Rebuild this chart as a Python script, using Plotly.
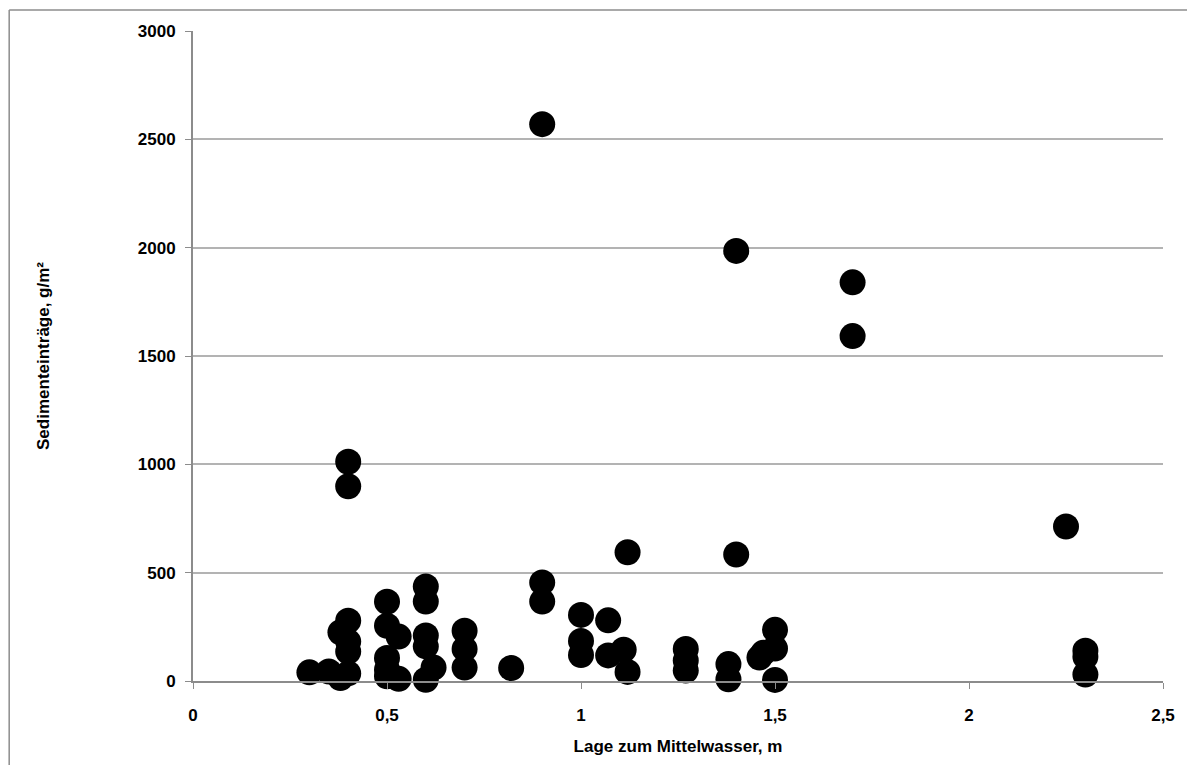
import plotly.graph_objects as go

# Lage zum Mittelwasser (m)
lage = [0.3, 0.35, 0.38, 0.38,
        0.4, 0.4, 0.4, 0.4, 0.4, 0.4,
        0.5, 0.5, 0.5, 0.5, 0.5,
        0.53, 0.53,
        0.6, 0.6, 0.6, 0.6, 0.6,
        0.62,
        0.7, 0.7, 0.7,
        0.82,
        0.9, 0.9, 0.9,
        1.0, 1.0, 1.0,
        1.07, 1.07,
        1.11,
        1.12, 1.12,
        1.27, 1.27, 1.27,
        1.38, 1.38,
        1.4, 1.4,
        1.46, 1.47,
        1.5, 1.5, 1.5,
        1.7, 1.7,
        2.25,
        2.3, 2.3, 2.3]

# Sedimenteinträge (g/m²)
sediment = [40, 44, 14, 225,
            1012, 899, 278, 182, 136, 35,
            366, 255, 106, 52, 22,
            205, 10,
            436, 367, 210, 160, 6,
            62,
            232, 148, 62,
            60,
            2570, 455, 367,
            305, 185, 120,
            280, 118,
            144,
            594, 42,
            148, 95, 48,
            78, 8,
            1985, 584,
            108, 130,
            236, 150, 5,
            1840, 1592,
            713,
            140, 112, 30]

x_ticks = [0, 0.5, 1, 1.5, 2, 2.5]
x_tick_labels = ["0", "0,5", "1", "1,5", "2", "2,5"]
y_ticks = [0, 500, 1000, 1500, 2000, 2500, 3000]

fig = go.Figure()
fig.add_trace(go.Scatter(
    x=lage, y=sediment, mode="markers",
    marker=dict(color="black", size=26, line=dict(width=0)),
    showlegend=False, cliponaxis=False,
))

font_family = "Liberation Sans, Arial, sans-serif"
W, H = 1179, 757
L, R, T, B = 185, 23, 23, 82
pw, ph = W - L - R, H - T - B  # plot area size

fig.update_layout(
    width=W, height=H,
    margin=dict(l=L, r=R, t=T, b=B),
    paper_bgcolor="white", plot_bgcolor="white",
    font=dict(family=font_family, size=17, color="black"),
    xaxis=dict(
        range=[0, 2.5], tickvals=x_ticks, ticktext=x_tick_labels,
        showgrid=False, zeroline=False,
        showline=True, linecolor="#8c8c8c", linewidth=2,
        ticks="outside", ticklen=6, tickcolor="#8c8c8c", tickwidth=1,
        ticklabelstandoff=12,
        tickfont=dict(family=font_family, size=17, color="black", weight="bold"),
        title=dict(text="<b>Lage zum Mittelwasser, m</b>",
                   font=dict(family=font_family, size=17, color="black"),
                   standoff=16),
    ),
    yaxis=dict(
        range=[0, 3000], tickvals=y_ticks,
        showgrid=True, gridcolor="#b3b3b3", gridwidth=1.5,
        zeroline=False,
        showline=True, linecolor="#8c8c8c", linewidth=2,
        ticks="outside", ticklen=6, tickcolor="#8c8c8c", tickwidth=1,
        ticklabelstandoff=6,
        tickfont=dict(family=font_family, size=17, color="black", weight="bold"),
        title=dict(text="<b>Sedimenteinträge, g/m²</b>",
                   font=dict(family=font_family, size=17, color="black"),
                   standoff=84),
    ),
    shapes=[
        dict(type="line", xref="paper", yref="paper",
             x0=(1 - L) / pw, x1=1.2, y0=(ph + T - 2) / ph, y1=(ph + T - 2) / ph,
             line=dict(color="#8c8c8c", width=1.5)),
        dict(type="line", xref="paper", yref="paper",
             x0=(1 - L) / pw, x1=(1 - L) / pw, y0=(ph + T - 2) / ph, y1=-0.3,
             line=dict(color="#8c8c8c", width=1.5)),
    ],
)

fig.write_html("out.html")
